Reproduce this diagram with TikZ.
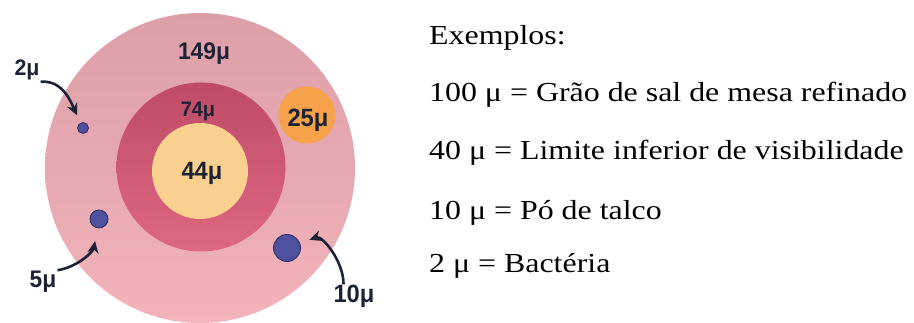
\documentclass[tikz,border=0pt]{standalone}
\usepackage{fontspec}
\setmainfont{Liberation Serif}[FakeStretch=1.16]
\newfontfamily\sizefont[FakeStretch=0.95]{Liberation Sans}
\usetikzlibrary{arrows.meta, positioning, shapes.geometric}
\definecolor{dusttop}{HTML}{DC9FA8}
\definecolor{dustbot}{HTML}{F2B3BA}
\definecolor{ringtop}{HTML}{BF4B68}
\definecolor{ringbot}{HTML}{DE6781}
\definecolor{corefill}{HTML}{F9D08E}
\definecolor{talcfill}{HTML}{F5A24B}
\definecolor{dotfill}{HTML}{4D519E}
\definecolor{dotline}{HTML}{292C5C}
\definecolor{ink}{HTML}{1E2235}

\begin{document}
\begin{tikzpicture}[
    x=1pt, y=1pt,
    disc/.style={circle, draw=none, inner sep=0pt, outer sep=0pt},
    dot/.style={circle, fill=dotfill, draw=dotline, line width=0.8pt, inner sep=0pt},
    lbl/.style={text=ink, inner sep=1pt, anchor=base, font=\sizefont\bfseries\fontsize{#1}{#1}\selectfont},
    example/.style={anchor=base west, inner sep=0pt, font=\fontsize{27.5}{30}\selectfont},
    pointer/.style={-{Stealth[length=12pt, width=11pt]}, line width=2.6pt, draw=ink}
]
\useasboundingbox (0,-323) rectangle (914,0);
% circles
\node[disc, minimum size=310pt, top color=dusttop, bottom color=dustbot] (dust) at (200,-168) {};
\node[disc, minimum size=169pt, top color=ringtop, bottom color=ringbot] (ring) at (201,-167) {};
\node[disc, minimum size=96pt, fill=corefill] (core) at (200,-171) {};
\node[disc, minimum size=57pt, fill=talcfill] (talc) at (307,-115) {};
\node[dot, minimum size=11pt] (bact) at (83,-128) {};
\node[dot, minimum size=18pt] (spore) at (99,-219) {};
\node[dot, minimum size=27pt] (pollen) at (287,-248) {};
% sizes
\node[lbl=24] (l149) at (204,-60) {149μ};
\node[lbl=21] (l74) at (198,-117) {74μ};
\node[lbl=25] (l44) at (202,-180) {44μ};
\node[lbl=25] (l25) at (308,-127) {25μ};
\node[lbl=22.5] (l2) at (27,-76) {2μ};
\node[lbl=24] (l5) at (43,-288) {5μ};
\node[lbl=25] (l10) at (354,-303) {10μ};
\draw[pointer, shorten >=8pt] (l2.south east) to[out=5, in=115] (bact);
\draw[pointer, shorten >=13pt] (l5.north east) to[out=10, in=260] (spore);
\draw[pointer, shorten >=10pt] (l10.130) to[out=90, in=20] (pollen);
% examples
\node[example] (head) at (429,-45) {Exemplos:};
\node[example] (salt) at (429,-102) {100 μ = Grão de sal de mesa refinado};
\node[example] (eye) at (429,-160) {40 μ = Limite inferior de visibilidade};
\node[example] (talco) at (429,-220) {10 μ = Pó de talco};
\node[example] (germ) at (429,-273) {2 μ = Bactéria};
\end{tikzpicture}
\end{document}
